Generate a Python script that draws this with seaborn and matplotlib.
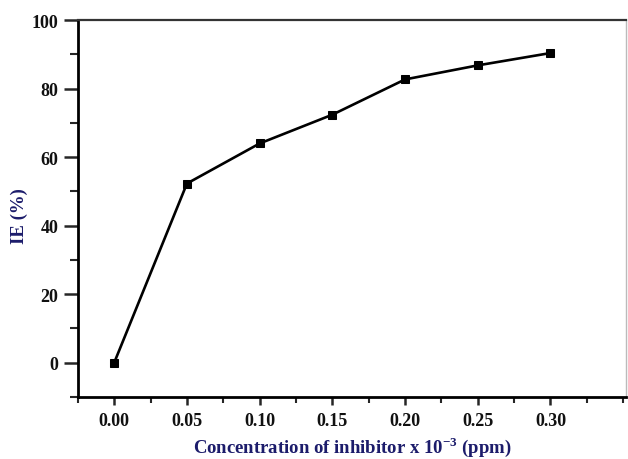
import matplotlib
matplotlib.use("Agg")
import matplotlib.pyplot as plt
from matplotlib.ticker import MultipleLocator
import seaborn as sns
import pandas as pd

# Inhibition efficiency versus inhibitor concentration
concentration = [0.00, 0.05, 0.10, 0.15, 0.20, 0.25, 0.30]
ie_percent = [0.0, 52.3, 64.0, 72.4, 82.7, 86.8, 90.4]
x_ticks = [0.00, 0.05, 0.10, 0.15, 0.20, 0.25, 0.30]
y_ticks = [0, 20, 40, 60, 80, 100]

df = pd.DataFrame({"conc": concentration, "ie": ie_percent})

sns.set_theme(style="ticks")
plt.rcParams["font.family"] = ["Liberation Serif", "DejaVu Serif"]
plt.rcParams["mathtext.fontset"] = "custom"
plt.rcParams["mathtext.rm"] = "Liberation Serif"
plt.rcParams["mathtext.bf"] = "Liberation Serif:bold"

fig = plt.figure(figsize=(6.28, 4.60), dpi=100)
ax = fig.add_axes([0.124, 0.135, 0.873, 0.819])

sns.lineplot(data=df, x="conc", y="ie", ax=ax, color="black", linewidth=1.9,
             marker="s", markersize=5.8, markeredgecolor="black",
             markerfacecolor="black")

ax.set_xlim(-0.025, 0.352)
ax.set_ylim(-10, 100)
ax.set_xticks(x_ticks)
ax.set_xticklabels([f"{v:.2f}" for v in x_ticks])
ax.set_yticks(y_ticks)
ax.xaxis.set_minor_locator(MultipleLocator(0.025))
ax.yaxis.set_minor_locator(MultipleLocator(10))

ax.tick_params(axis="y", which="major", direction="out", length=10, width=1.8,
               labelsize=13, pad=4, right=False)
ax.tick_params(axis="y", which="minor", direction="out", length=5.5, width=1.5)
ax.tick_params(axis="x", which="major", direction="out", length=6, width=1.8,
               labelsize=13, pad=5, top=False)
ax.tick_params(axis="x", which="minor", direction="out", length=4, width=1.5)
for lab in ax.get_xticklabels() + ax.get_yticklabels():
    lab.set_fontweight("bold")
    lab.set_color("#111111")

for side in ["left", "bottom"]:
    ax.spines[side].set_linewidth(2.0)
    ax.spines[side].set_color("black")
ax.spines["top"].set_linewidth(1.6)
ax.spines["top"].set_color("#333333")
ax.spines["right"].set_linewidth(1.0)
ax.spines["right"].set_color("#bbbbbb")

navy = "#1c1c6b"
ax.set_xlabel("Concentration of inhibitor x 10$^{\\mathbf{-3}}$ (ppm)",
              fontsize=13.5, fontweight="bold", color=navy)
ax.set_ylabel("IE (%)", fontsize=13.5, fontweight="bold", color=navy)
ax.xaxis.set_label_coords(0.5, -0.098)
ax.yaxis.set_label_coords(-0.091, 0.483)

fig.savefig("out.png", dpi=100)
